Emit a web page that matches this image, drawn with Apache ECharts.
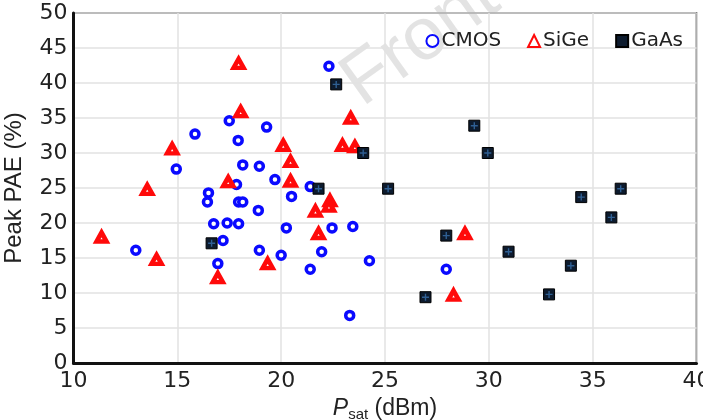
<!DOCTYPE html>
<html>
<head>
<meta charset="utf-8">
<script src="https://cdn.jsdelivr.net/npm/echarts@6/dist/echarts.min.js"></script>
<style>
  html, body { margin: 0; padding: 0; background: #fff; }
  #chart { width: 703px; height: 420px; }
</style>
</head>
<body>
<div id="chart"></div>
<script>
// Psat (dBm), peak PAE (%)
var cmos = [
  [13.0, 16.1], [14.95, 27.7], [15.85, 32.7], [17.5, 34.6], [17.93, 31.8],
  [19.3, 33.7], [18.15, 28.3], [18.95, 28.1], [19.7, 26.2], [17.85, 25.5],
  [16.5, 24.3], [16.45, 23.0], [17.95, 23.0], [18.15, 23.0], [18.9, 21.8],
  [16.75, 19.9], [17.4, 20.0], [17.95, 19.9], [17.2, 17.5], [16.95, 14.2],
  [18.95, 16.1], [20.0, 15.4], [20.5, 23.8], [21.4, 25.2], [20.25, 19.3],
  [22.45, 19.3], [23.45, 19.5], [21.95, 15.9], [21.4, 13.4], [24.25, 14.6],
  [23.3, 6.8], [22.3, 42.4], [27.95, 13.4]
];
var sige = [
  [11.35, 18.0], [13.55, 24.8], [14.0, 14.8], [14.75, 30.6], [16.95, 12.2],
  [17.45, 25.9], [17.95, 42.8], [18.05, 35.9], [19.35, 14.2], [20.1, 31.1],
  [20.45, 28.8], [20.45, 26.0], [21.65, 21.7], [22.35, 23.2], [22.3, 22.4],
  [21.8, 18.5], [22.95, 31.1], [23.35, 35.0], [23.55, 30.9], [28.85, 18.5],
  [28.3, 9.7]
];
var gaas = [
  [16.65, 17.1], [21.8, 24.9], [22.65, 39.8], [23.95, 30.0], [25.15, 24.9],
  [26.95, 9.4], [27.95, 18.2], [29.3, 33.9], [29.95, 30.0], [30.95, 15.9],
  [32.9, 9.8], [33.95, 13.9], [34.45, 23.7], [35.9, 20.8], [36.35, 24.9]
];
var seriesNames = ['CMOS', 'SiGe', 'GaAs'];

var myChart = echarts.init(document.getElementById('chart'), null, { renderer: 'canvas' });

var tickFont = { fontFamily: 'DejaVu Sans', fontSize: 22, color: '#222' };

var option = {
  animation: false,
  backgroundColor: '#fff',
  graphic: [{
    type: 'text',
    x: 372,
    y: 121,
    rotation: 0.62,
    silent: true,
    z: 0,
    style: {
      text: 'Front',
      font: '74px Liberation Sans',
      fill: 'rgba(0,0,0,0.11)',
      textAlign: 'left',
      textVerticalAlign: 'bottom'
    }
  }],
  grid: {
    left: 73.5,
    right: 6.5,
    top: 13,
    bottom: 57,
    outerBoundsMode: 'none',
    show: true,
    borderColor: '#111',
    borderWidth: 1.5
  },
  legend: {
    data: seriesNames,
    right: 15,
    top: 26,
    itemWidth: 12,
    itemHeight: 12,
    itemGap: 26,
    textStyle: { fontFamily: 'DejaVu Sans', fontSize: 20, color: '#222', padding: [0, 0, 0, -2] }
  },
  xAxis: {
    type: 'value',
    min: 10,
    max: 40,
    interval: 5,
    axisLine: { show: true, onZero: false, lineStyle: { color: '#111', width: 3 } },
    axisTick: { show: false },
    axisLabel: { margin: 7, fontFamily: tickFont.fontFamily, fontSize: tickFont.fontSize, color: tickFont.color },
    splitLine: { show: true, lineStyle: { color: '#e2e2e2', width: 1.5 } },
    name: '{i|P}{s|sat}{n| (dBm)}',
    nameLocation: 'middle',
    nameGap: 32,
    nameTextStyle: {
      rich: {
        i: { fontFamily: 'Liberation Sans', fontStyle: 'italic', fontSize: 23, lineHeight: 23, verticalAlign: 'top', color: '#222' },
        s: { fontFamily: 'Liberation Sans', fontSize: 15, lineHeight: 15, padding: [10, 0, 0, 0], verticalAlign: 'top', color: '#222' },
        n: { fontFamily: 'Liberation Sans', fontSize: 23, lineHeight: 23, verticalAlign: 'top', color: '#222' }
      }
    }
  },
  yAxis: {
    type: 'value',
    min: 0,
    max: 50,
    interval: 5,
    axisLine: { show: true, onZero: false, lineStyle: { color: '#111', width: 3 } },
    axisTick: { show: false },
    axisLabel: { margin: 6, fontFamily: tickFont.fontFamily, fontSize: tickFont.fontSize, color: tickFont.color },
    splitLine: { show: true, lineStyle: { color: '#e2e2e2', width: 1.5 } },
    name: 'Peak PAE (%)',
    nameLocation: 'middle',
    nameGap: 47,
    nameTextStyle: { fontFamily: 'Liberation Sans', fontSize: 24, color: '#222' }
  },
  series: [
    {
      name: 'CMOS',
      type: 'scatter',
      data: cmos,
      symbol: 'circle',
      symbolSize: 8,
      itemStyle: { color: '#fff', borderColor: '#0a0aff', borderWidth: 3.5, opacity: 1 },
      z: 3
    },
    {
      name: 'SiGe',
      type: 'scatter',
      data: sige,
      symbol: 'triangle',
      symbolSize: [10, 9],
      itemStyle: { color: '#fff', borderColor: '#ff0a0a', borderWidth: 4.5, opacity: 1 },
      z: 4
    },
    {
      name: 'GaAs',
      type: 'scatter',
      data: gaas,
      symbol: 'rect',
      symbolSize: 11,
      itemStyle: { color: '#0d1b2e', borderColor: '#000', borderWidth: 1, opacity: 1 },
      z: 5
    },
    {
      name: 'GaAs cross',
      type: 'scatter',
      data: gaas,
      symbol: 'path://M4,0H6V4H10V6H6V10H4V6H0V4H4Z',
      symbolSize: 7,
      silent: true,
      itemStyle: { color: '#2f5f93', opacity: 1 },
      z: 6
    }
  ]
};

myChart.setOption(option);
window.addEventListener('resize', function () {
  myChart.resize();
});
</script>
</body>
</html>
